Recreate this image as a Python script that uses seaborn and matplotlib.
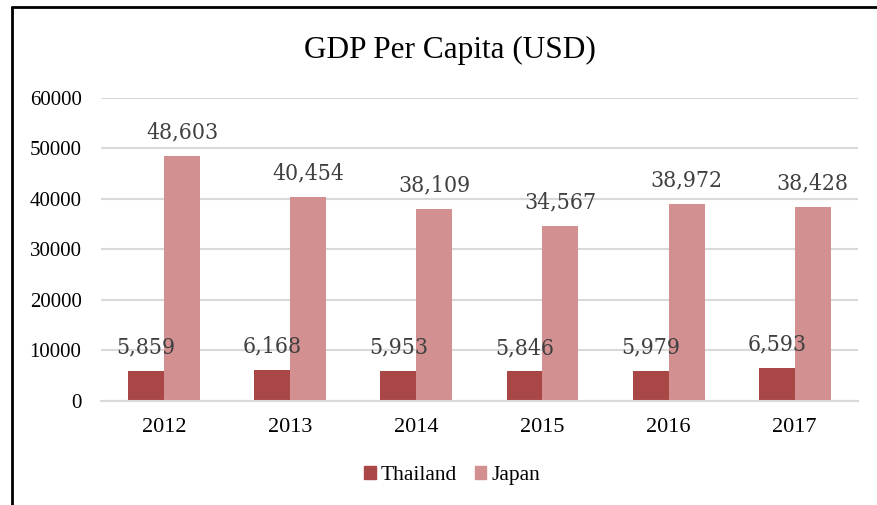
import matplotlib
matplotlib.use("Agg")
import matplotlib.pyplot as plt
import seaborn as sns
import pandas as pd
from matplotlib.lines import Line2D

years = ["2012", "2013", "2014", "2015", "2016", "2017"]
thailand = [5859, 6168, 5953, 5846, 5979, 6593]
japan = [48603, 40454, 38109, 34567, 38972, 38428]
series = ["Thailand", "Japan"]
colors = ["#A94646", "#D39090"]
yticks = [0, 10000, 20000, 30000, 40000, 50000, 60000]

df = pd.DataFrame({
    "Year": years * 2,
    "Country": [series[0]] * len(years) + [series[1]] * len(years),
    "GDP": thailand + japan,
})

sns.set_theme(style="white")
plt.rcParams["font.family"] = ["Liberation Serif", "DejaVu Serif"]
plt.rcParams["text.color"] = "black"

fig = plt.figure(figsize=(8.78, 5.05), dpi=100)
ax = fig.add_axes([0.115, 0.206, 0.862, 0.600])

sns.barplot(data=df, x="Year", y="GDP", hue="Country", palette=colors,
            width=0.57, gap=0, saturation=1, ax=ax, order=years,
            hue_order=series, legend=True, linewidth=0)

for cont in ax.containers:
    ax.bar_label(cont, labels=[f"{v:,.0f}" for v in cont.datavalues],
                 padding=9, fontsize=16.5, color="#404040",
                 family="DejaVu Serif", fontstretch="condensed")

ax.set_ylim(0, 60000)
ax.set_yticks(yticks)
ax.set_yticklabels([str(v) for v in yticks])
ax.yaxis.grid(True, color="#D9D9D9", linewidth=1.5)
ax.set_axisbelow(True)
for s in ["top", "right", "left"]:
    ax.spines[s].set_visible(False)
ax.spines["bottom"].set_color("#D9D9D9")
ax.spines["bottom"].set_linewidth(1.5)
ax.tick_params(axis="y", length=0, labelsize=15, colors="black", pad=14)
ax.tick_params(axis="x", length=0, labelsize=16, colors="black", pad=12)
ax.set_xlabel("")
ax.set_ylabel("")

fig.suptitle("GDP Per Capita (USD)", fontsize=22.5, y=0.928, x=0.512,
             color="black")

ax.legend_.remove()
handles = [plt.Rectangle((0, 0), 1, 1, color=c) for c in colors]
fig.legend(handles, series, loc="center", bbox_to_anchor=(0.515, 0.058),
           ncol=2, frameon=False, fontsize=15.5, handlelength=0.55,
           handleheight=0.55, handletextpad=0.25, columnspacing=0.8,
           labelcolor="black")

fig.add_artist(Line2D([0.0135, 1.0], [0.986, 0.986], color="black", linewidth=2,
                      transform=fig.transFigure))
fig.add_artist(Line2D([0.0135, 0.0135], [0.0, 0.986], color="black", linewidth=2,
                      transform=fig.transFigure))

fig.savefig("out.png", dpi=100)
